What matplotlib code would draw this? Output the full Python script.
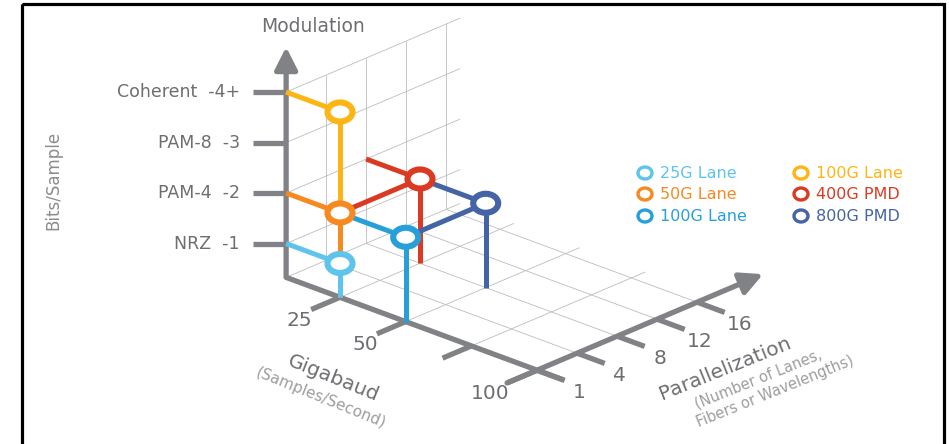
import numpy as np
import matplotlib.pyplot as plt
from matplotlib.patches import Ellipse, Rectangle

# 数据
series = ['25G Lane', '50G Lane', '100G Lane', '100G Lane', '400G PMD', '800G PMD']
colors = ['#5ec4ec', '#f6891f', '#fdb515', '#279fd9', '#db3a22', '#4464a6']
gigabaud = [25, 25, 25, 50, 25, 50]
lanes = [1, 1, 1, 1, 8, 8]
bits = [1, 2, 4, 2, 2, 2]
# 连线 (起点, 终点)，-1 表示从调制轴出发
links = [(-1, 0), (-1, 1), (-1, 2), (1, 3), (-1, 4), (1, 4), (3, 5), (4, 5)]

mod_ticks = [1, 2, 3, 4]
mod_labels = ['NRZ  -1', 'PAM-4  -2', 'PAM-8  -3', 'Coherent  -4+']
baud_ticks = [25, 50, 75, 100]
baud_labels = ['25', '50', '', '100']
lane_ticks = [1, 4, 8, 12, 16]
lane_labels = ['1', '4', '8', '12', '16']

legend_cols = [[0, 1, 3], [2, 4, 5]]

# 斜投影参数（像素）
O = np.array([274.3, 273.0])
GA = np.array([65.7, 24.3])     # 每 25 Gbaud
PB = np.array([40.0, -17.0])    # 每个并行刻度
UP = 50.5                       # 每 bit
FLOOR = 0.33
AW = 0.18                       # 调制轴所在位置
GRAY = '#818285'
TXT = '#6d6e71'
GRID = '#bdbdbd'


def P(a, b, h=0.0):
    return (O[0] + a * GA[0] + b * PB[0], O[1] + a * GA[1] + b * PB[1] - h * UP)


def lane_pos(n):
    return np.interp(n, lane_ticks, np.arange(len(lane_ticks)))


def seg(p, q, **kw):
    ax.plot([p[0], q[0]], [p[1], q[1]], solid_capstyle='butt', **kw)


fig = plt.figure(figsize=(9.49, 4.44), dpi=100)
ax = fig.add_axes([0, 0, 1, 1])
ax.set_xlim(0, 949)
ax.set_ylim(444, 0)
ax.axis('off')

# 网格
gk = dict(color=GRID, lw=0.6, zorder=1)
top_h = max(mod_ticks) - FLOOR
for b in range(1, len(lane_ticks)):
    seg(P(AW, b, 0), P(AW, b, top_h), **gk)
    seg(P(AW, b, 0), P(4.4, b, 0), **gk)
for m in mod_ticks:
    seg(P(AW, 0, m - FLOOR), P(AW, 4.35, m - FLOOR), **gk)
seg(P(AW, 0, 0), P(AW, 4.35, 0), **gk)
for g in baud_ticks[:-1]:
    seg(P(g / 25, 0, 0), P(g / 25, 4.35, 0), **gk)

# 坐标轴
axk = dict(color=GRAY, lw=3.8, zorder=2)
arrow = dict(arrowstyle='-|>,head_length=0.75,head_width=0.38',
             color=GRAY, lw=3.8, shrinkA=0, shrinkB=0, mutation_scale=18)
base = P(AW, 0, 0)
ax.annotate('', xy=(base[0], 47), xytext=base, arrowprops=arrow, zorder=2)
seg(base, P(4.4, 0, 0), **axk)
ax.annotate('', xy=P(4, 5.65, 0), xytext=P(4, -0.75, 0), arrowprops=arrow, zorder=2)

# 刻度与标签
for m, lab in zip(mod_ticks, mod_labels):
    x, y = P(AW, 0, m - FLOOR)
    seg((x - 33, y), (x, y), **axk)
    ax.text(240, y, lab, ha='right', va='center', fontsize=12.5, color=TXT)
for g, lab in zip(baud_ticks, baud_labels):
    a = g / 25
    seg(P(a, 0, 0), P(a, -0.72, 0), **axk)
    x, y = P(a, -0.72, 0)
    ax.text(x + 1, y + 11, lab, ha='right', va='center', fontsize=14.5, color=TXT)
for n, lab in zip(lane_ticks, lane_labels):
    b = lane_pos(n)
    seg(P(4, b, 0), P(4.42, b, 0), **axk)
    x, y = P(4.42, b, 0)
    ax.text(x + 15, y + 12, lab, ha='center', va='center', fontsize=14.5, color=TXT)

ax.text(313, 27, 'Modulation', ha='center', va='center', fontsize=13.5, color=TXT)
ax.text(53, 180, 'Bits/Sample', ha='center', va='center', rotation=90,
        fontsize=12, color='#8c8c8c')
ax.text(333, 378, 'Gigabaud', ha='center', va='center', rotation=-22,
        rotation_mode='anchor', fontsize=14.5, color=TXT)
ax.text(321, 398, '(Samples/Second)', ha='center', va='center', rotation=-22,
        rotation_mode='anchor', fontsize=11, color='#9d9d9d')
ax.text(725, 369, 'Parallelization', ha='center', va='center', rotation=22,
        rotation_mode='anchor', fontsize=14.5, color=TXT)
ax.text(758, 379, '(Number of Lanes,', ha='center', va='center', rotation=22,
        rotation_mode='anchor', fontsize=10.5, color='#9d9d9d')
ax.text(775, 392, 'Fibers or Wavelengths)', ha='center', va='center', rotation=22,
        rotation_mode='anchor', fontsize=10.5, color='#9d9d9d')

# 数据点
pts = [(g / 25, lane_pos(n), m - FLOOR) for g, n, m in zip(gigabaud, lanes, bits)]
for i in np.argsort(bits, kind='stable')[::-1]:
    a, b, h = pts[i]
    seg(P(a, b, 0), P(a, b, h), color=colors[i], lw=3.6, zorder=3 + 0.1 * (5 - bits[i]))
for s, t in links:
    a, b, h = pts[t]
    start = P(AW, b, h) if s < 0 else P(*pts[s])
    seg(start, P(a, b, h), color=colors[t], lw=3.6, zorder=4)
for i, (a, b, h) in enumerate(pts):
    ax.add_patch(Ellipse(P(a, b, h), 25, 19, facecolor='white',
                         edgecolor=colors[i], lw=4.4, zorder=5))

# 图例
rows = [173, 194, 216]
for cx, col in zip([645, 801], legend_cols):
    for y, i in zip(rows, col):
        ax.add_patch(Ellipse((cx, y), 14, 12, facecolor='white',
                             edgecolor=colors[i], lw=2.4, zorder=5))
        ax.text(cx + 15, y, series[i], ha='left', va='center', fontsize=11.5,
                color=colors[i])

# 边框
ax.add_patch(Rectangle((22, 4), 922, 470, fill=False, edgecolor='black',
                       lw=2.3, clip_on=False, zorder=10))

fig.savefig('out.png', dpi=100, facecolor='white')
